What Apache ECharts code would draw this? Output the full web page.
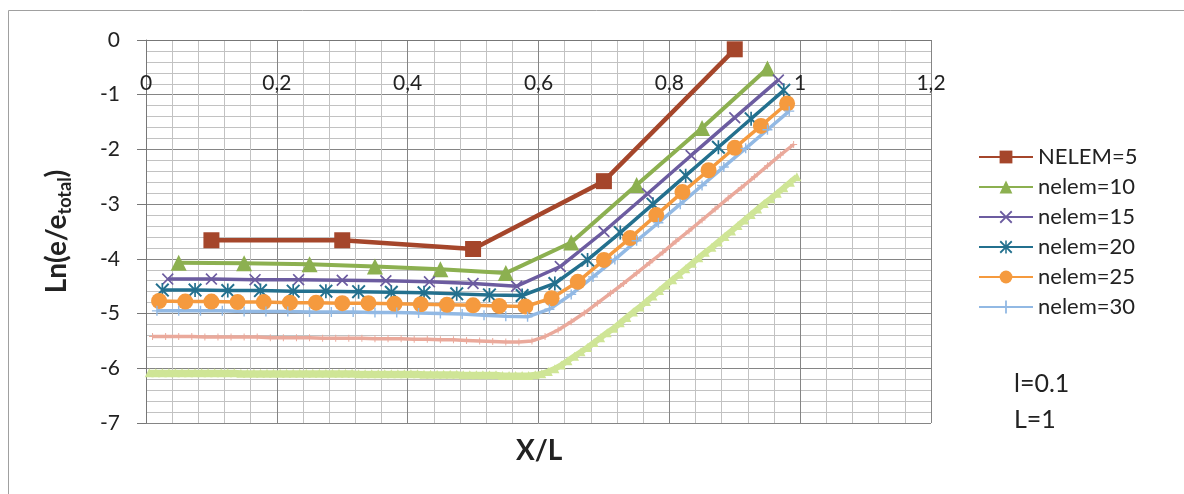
<!DOCTYPE html>
<html>
<head>
<meta charset="utf-8">
<script src="https://cdn.jsdelivr.net/npm/echarts@6/dist/echarts.min.js"></script>
<style>
  html, body { margin: 0; padding: 0; background: #ffffff; }
  #chart { width: 1184px; height: 494px; }
</style>
</head>
<body>
<div id="chart"></div>
<script>
// Strain distribution Ln(e/e_total) along X/L for several mesh sizes (l = 0.1, L = 1)

const xTicks = [0, 0.2, 0.4, 0.6, 0.8, 1, 1.2];
const yTicks = [0, -1, -2, -3, -4, -5, -6, -7];

const x5 = [0.1, 0.3, 0.5, 0.7, 0.9];
const y5 = [-3.66, -3.66, -3.82, -2.58, -0.17];

const x10 = [0.05, 0.15, 0.25, 0.35, 0.45, 0.55, 0.65, 0.75, 0.85, 0.95];
const y10 = [-4.07, -4.08, -4.10, -4.14, -4.19, -4.26, -3.70, -2.65, -1.61, -0.52];

const x15 = [0.0333, 0.1, 0.1667, 0.2333, 0.3, 0.3667, 0.4333, 0.5, 0.5667, 0.6333, 0.7, 0.7667, 0.8333, 0.9, 0.9667];
const y15 = [-4.37, -4.37, -4.38, -4.38, -4.39, -4.40, -4.42, -4.45, -4.50, -4.14, -3.50, -2.81, -2.11, -1.42, -0.73];

const x20 = [0.025, 0.075, 0.125, 0.175, 0.225, 0.275, 0.325, 0.375, 0.425, 0.475,
             0.525, 0.575, 0.625, 0.675, 0.725, 0.775, 0.825, 0.875, 0.925, 0.975];
const y20 = [-4.57, -4.57, -4.58, -4.58, -4.59, -4.59, -4.60, -4.61, -4.62, -4.64,
             -4.66, -4.67, -4.45, -4.02, -3.52, -3.00, -2.48, -1.96, -1.44, -0.92];

const x25 = [0.02, 0.06, 0.10, 0.14, 0.18, 0.22, 0.26, 0.30, 0.34, 0.38, 0.42, 0.46, 0.50,
             0.54, 0.58, 0.62, 0.66, 0.70, 0.74, 0.78, 0.82, 0.86, 0.90, 0.94, 0.98];
const y25 = [-4.77, -4.78, -4.78, -4.79, -4.79, -4.80, -4.80, -4.81, -4.81, -4.82, -4.83, -4.84, -4.85,
             -4.86, -4.87, -4.72, -4.42, -4.02, -3.62, -3.20, -2.78, -2.38, -1.97, -1.57, -1.16];

const x30 = [0.0167, 0.05, 0.0833, 0.1167, 0.15, 0.1833, 0.2167, 0.25, 0.2833, 0.3167,
             0.35, 0.3833, 0.4167, 0.45, 0.4833, 0.5167, 0.55, 0.5833, 0.6167, 0.65,
             0.6833, 0.7167, 0.75, 0.7833, 0.8167, 0.85, 0.8833, 0.9167, 0.95, 0.9833];
const y30 = [-4.95, -4.95, -4.95, -4.95, -4.96, -4.96, -4.96, -4.97, -4.97, -4.97,
             -4.98, -4.98, -4.99, -5.00, -5.01, -5.03, -5.05, -5.06, -4.92, -4.65,
             -4.33, -4.01, -3.67, -3.34, -3.00, -2.66, -2.32, -1.98, -1.64, -1.30];

const x50 = [0.01, 0.03, 0.05, 0.07, 0.09, 0.11, 0.13, 0.15, 0.17, 0.19,
             0.21, 0.23, 0.25, 0.27, 0.29, 0.31, 0.33, 0.35, 0.37, 0.39,
             0.41, 0.43, 0.45, 0.47, 0.49, 0.51, 0.53, 0.55, 0.57, 0.59,
             0.61, 0.63, 0.65, 0.67, 0.69, 0.71, 0.73, 0.75, 0.77, 0.79,
             0.81, 0.83, 0.85, 0.87, 0.89, 0.91, 0.93, 0.95, 0.97, 0.99];
const y50 = [-5.42, -5.42, -5.42, -5.42, -5.43, -5.43, -5.43, -5.43, -5.43, -5.44,
             -5.44, -5.44, -5.44, -5.45, -5.45, -5.45, -5.45, -5.46, -5.46, -5.46,
             -5.47, -5.47, -5.48, -5.48, -5.49, -5.50, -5.51, -5.52, -5.52, -5.50,
             -5.42, -5.30, -5.15, -4.99, -4.81, -4.63, -4.45, -4.26, -4.07, -3.88,
             -3.68, -3.49, -3.29, -3.09, -2.89, -2.70, -2.50, -2.30, -2.10, -1.91];

const x100 = [0.005, 0.015, 0.025, 0.035, 0.045, 0.055, 0.065, 0.075, 0.085, 0.095,
              0.105, 0.115, 0.125, 0.135, 0.145, 0.155, 0.165, 0.175, 0.185, 0.195,
              0.205, 0.215, 0.225, 0.235, 0.245, 0.255, 0.265, 0.275, 0.285, 0.295,
              0.305, 0.315, 0.325, 0.335, 0.345, 0.355, 0.365, 0.375, 0.385, 0.395,
              0.405, 0.415, 0.425, 0.435, 0.445, 0.455, 0.465, 0.475, 0.485, 0.495,
              0.505, 0.515, 0.525, 0.535, 0.545, 0.555, 0.565, 0.575, 0.585, 0.595,
              0.605, 0.615, 0.625, 0.635, 0.645, 0.655, 0.665, 0.675, 0.685, 0.695,
              0.705, 0.715, 0.725, 0.735, 0.745, 0.755, 0.765, 0.775, 0.785, 0.795,
              0.805, 0.815, 0.825, 0.835, 0.845, 0.855, 0.865, 0.875, 0.885, 0.895,
              0.905, 0.915, 0.925, 0.935, 0.945, 0.955, 0.965, 0.975, 0.985, 0.995];
const y100 = [-6.08, -6.08, -6.08, -6.08, -6.08, -6.08, -6.08, -6.08, -6.08, -6.08,
              -6.08, -6.08, -6.08, -6.08, -6.09, -6.09, -6.09, -6.09, -6.09, -6.09,
              -6.09, -6.09, -6.09, -6.09, -6.09, -6.09, -6.09, -6.09, -6.09, -6.09,
              -6.09, -6.09, -6.10, -6.10, -6.10, -6.10, -6.10, -6.10, -6.10, -6.10,
              -6.10, -6.10, -6.11, -6.11, -6.11, -6.11, -6.11, -6.11, -6.12, -6.12,
              -6.12, -6.12, -6.12, -6.12, -6.13, -6.13, -6.13, -6.13, -6.13, -6.12,
              -6.10, -6.06, -6.01, -5.94, -5.86, -5.78, -5.70, -5.62, -5.53, -5.44,
              -5.35, -5.27, -5.17, -5.07, -4.97, -4.88, -4.78, -4.68, -4.58, -4.48,
              -4.38, -4.28, -4.18, -4.08, -3.98, -3.88, -3.79, -3.69, -3.59, -3.49,
              -3.39, -3.29, -3.19, -3.09, -2.99, -2.90, -2.80, -2.70, -2.60, -2.50];

const legendNames = ['NELEM=5', 'nelem=10', 'nelem=15', 'nelem=20', 'nelem=25', 'nelem=30'];

const FONT = 'Lato, "Open Sans", sans-serif';
const SYM_X = 'path://M0,1L1,0L5,4L9,0L10,1L6,5L10,9L9,10L5,6L1,10L0,9L4,5Z';
const SYM_STAR = 'path://M0,1L1,0L5,4L9,0L10,1L6,5L10,9L9,10L5,6L1,10L0,9L4,5Z M4.4,0L5.6,0L5.6,10L4.4,10Z';
const SYM_PLUS = 'path://M4.3,0L5.7,0L5.7,4.3L10,4.3L10,5.7L5.7,5.7L5.7,10L4.3,10L4.3,5.7L0,5.7L0,4.3L4.3,4.3Z';

function pairs(xs, ys) {
  return xs.map((x, i) => [x, ys[i]]);
}

function lineSeries(name, xs, ys, color, width, symbol, size) {
  return {
    name: name,
    type: 'line',
    data: pairs(xs, ys),
    symbol: symbol,
    symbolSize: size,
    showAllSymbol: true,
    lineStyle: { color: color, width: width },
    itemStyle: { color: color, borderWidth: 0 },
    emphasis: { disabled: true }
  };
}

const chart = echarts.init(document.getElementById('chart'), null, { renderer: 'canvas' });

chart.setOption({
  animation: false,
  backgroundColor: '#ffffff',
  grid: { left: 146, right: 253, top: 40, bottom: 71, containLabel: false },
  legend: {
    data: legendNames,
    orient: 'vertical',
    left: 973,
    top: 141,
    itemWidth: 54,
    itemHeight: 16,
    itemGap: 8,
    textStyle: { fontFamily: FONT, fontSize: 22, color: '#222222' }
  },
  // X axis sits on the Ln = 0 line (top edge), with its labels hanging inside the plot
  xAxis: {
    type: 'value',
    position: 'top',
    min: xTicks[0],
    max: xTicks[xTicks.length - 1],
    interval: 0.2,
    axisLine: { show: true, onZero: false, lineStyle: { color: '#777777', width: 1 } },
    axisTick: { show: false },
    axisLabel: {
      inside: true,
      margin: 33,
      fontFamily: FONT,
      fontSize: 21,
      color: '#222222',
      formatter: v => String(+v.toFixed(1)).replace('.', ',')
    },
    splitLine: { show: true, lineStyle: { color: '#858585', width: 1 } },
    minorTick: { show: false, splitNumber: 5 },
    minorSplitLine: { show: true, lineStyle: { color: '#c2c2c2', width: 1 } }
  },
  yAxis: {
    type: 'value',
    min: yTicks[yTicks.length - 1],
    max: yTicks[0],
    interval: 1,
    axisLine: { show: true, lineStyle: { color: '#777777', width: 1 } },
    axisTick: { show: true, length: 9, lineStyle: { color: '#777777' } },
    axisLabel: { margin: 26, fontFamily: FONT, fontSize: 21, color: '#222222' },
    splitLine: { show: true, lineStyle: { color: '#858585', width: 1 } },
    minorTick: { show: false, splitNumber: 5 },
    minorSplitLine: { show: true, lineStyle: { color: '#c2c2c2', width: 1 } },
    name: '{a|Ln(e/e}{s|total}{a|)}',
    nameLocation: 'middle',
    nameRotate: 90,
    nameGap: 72,
    nameTextStyle: {
      rich: {
        a: { fontFamily: FONT, fontSize: 28, fontWeight: 'bold', color: '#222222', lineHeight: 34 },
        s: { fontFamily: FONT, fontSize: 18, fontWeight: 'bold', color: '#222222', lineHeight: 18, verticalAlign: 'bottom' }
      }
    }
  },
  graphic: [
    {
      type: 'polyline',
      shape: { points: [[8.5, 494], [8.5, 10.5], [1184, 10.5]] },
      style: { stroke: '#a0a0a0', lineWidth: 1, fill: null },
      silent: true
    },
    {
      type: 'text', left: 516, top: 437,
      style: { text: 'X/L', fontFamily: FONT, fontSize: 28, fontWeight: 'bold', fill: '#222222' }
    },
    {
      type: 'text', left: 1014, top: 371,
      style: { text: 'l=0.1', fontFamily: FONT, fontSize: 25, fill: '#222222' }
    },
    {
      type: 'text', left: 1014, top: 407,
      style: { text: 'L=1', fontFamily: FONT, fontSize: 25, fill: '#222222' }
    }
  ],
  series: [
    lineSeries('nelem=100', x100, y100, '#cfe596', 6, 'triangle', 9),
    lineSeries('nelem=50', x50, y50, '#eaa99b', 3.5, SYM_PLUS, 7),
    lineSeries(legendNames[0], x5, y5, '#a5462b', 4.5, 'rect', 16),
    lineSeries(legendNames[1], x10, y10, '#8cb050', 4, 'triangle', 16),
    lineSeries(legendNames[2], x15, y15, '#6c5ca0', 3.5, SYM_X, 12),
    lineSeries(legendNames[3], x20, y20, '#23708e', 3.5, SYM_STAR, 14),
    lineSeries(legendNames[4], x25, y25, '#f59a3e', 3.5, 'circle', 16),
    lineSeries(legendNames[5], x30, y30, '#92b9e4', 3.5, SYM_PLUS, 10)
  ]
});
</script>
</body>
</html>
